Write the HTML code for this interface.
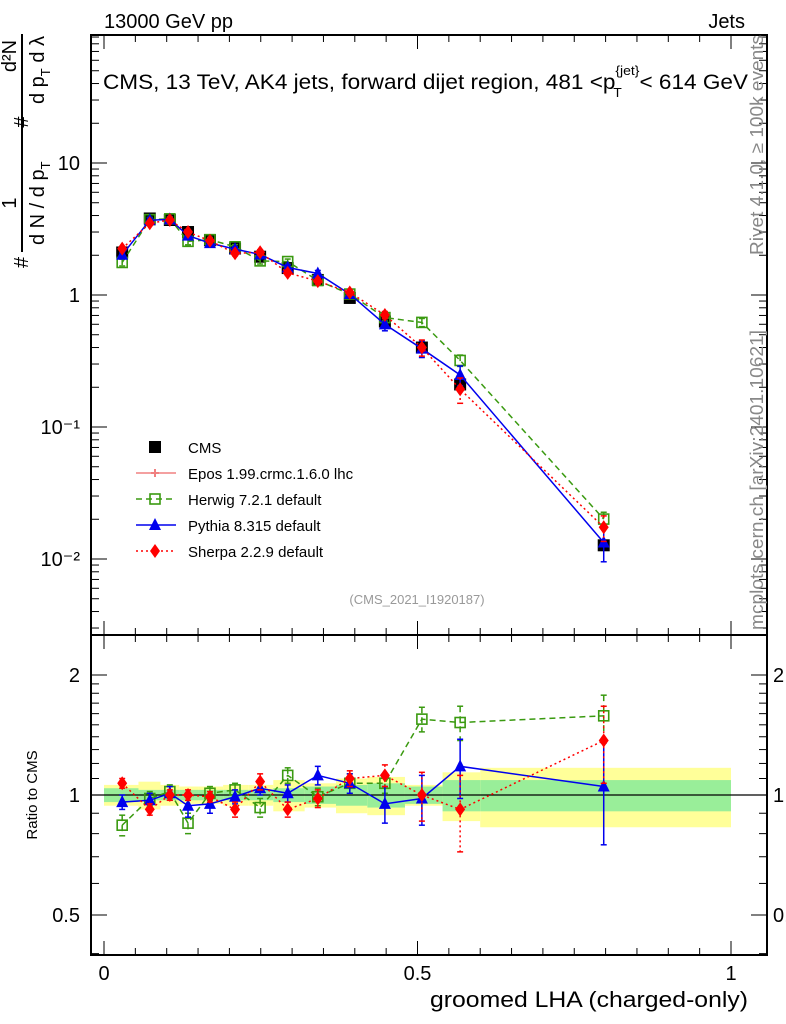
<!DOCTYPE html>
<html><head><meta charset="utf-8"><style>
html,body{margin:0;padding:0;background:#fff;}
svg{display:block;font-family:"Liberation Sans","DejaVu Sans",sans-serif;}
</style></head><body>
<svg id="chart" width="786" height="1024" viewBox="0 0 786 1024" xmlns="http://www.w3.org/2000/svg">
<g id="bands"></g>
<g id="axes"></g>
<g id="series"></g>
<g id="labels">
<text x="104" y="28" font-size="20">13000 GeV pp</text>
<text x="745" y="28" font-size="20" text-anchor="end">Jets</text>
<text x="103" y="89" font-size="21" textLength="645" lengthAdjust="spacingAndGlyphs">CMS, 13 TeV, AK4 jets, forward dijet region, 481 &lt;p<tspan font-size="13" dy="8" dx="-2">T</tspan><tspan font-size="13" dy="-22" dx="-6">{jet}</tspan><tspan dy="14">&lt; 614 GeV</tspan></text>
<text transform="translate(763,255) rotate(-90)" font-size="18" fill="#888" textLength="220" lengthAdjust="spacingAndGlyphs">Rivet 4.1.0, ≥ 100k events</text>
<text transform="translate(763,630) rotate(-90)" font-size="18" fill="#888" textLength="300" lengthAdjust="spacingAndGlyphs">mcplots.cern.ch [arXiv:2401.10621]</text>
<text x="417" y="604" font-size="13" fill="#999" text-anchor="middle">(CMS_2021_I1920187)</text>
<text x="748" y="1007" font-size="22" text-anchor="end" textLength="318" lengthAdjust="spacingAndGlyphs">groomed LHA (charged-only)</text>
<text transform="translate(37,795) rotate(-90)" font-size="15" text-anchor="middle">Ratio to CMS</text>
<g font-size="20">
<line x1="22" y1="252" x2="22" y2="34" stroke="#000" stroke-width="2"/>
<text transform="translate(28,268) rotate(-90)" text-anchor="start">#</text>
<text transform="translate(16,203) rotate(-90)" text-anchor="middle">1</text>
<text transform="translate(16,56) rotate(-90)" text-anchor="middle">d²N</text>
<text transform="translate(44,245) rotate(-90)">d N / d p<tspan font-size="13" dy="6">T</tspan></text>
<text transform="translate(28,122) rotate(-90)" text-anchor="middle">#</text>
<text transform="translate(44,104) rotate(-90)">d p<tspan font-size="13" dy="6">T</tspan><tspan dy="-6">  d λ</tspan></text>
</g>
</g>
<g id="legend"></g>
</svg>
<script>
const xVals=[0.029,0.073,0.105,0.134,0.169,0.209,0.249,0.293,0.341,0.392,0.448,0.507,0.568,0.797];
const binEdges=[0,0.055,0.09,0.12,0.15,0.19,0.23,0.27,0.32,0.37,0.42,0.48,0.54,0.6,1];
const cmsVals=[2.1,3.8,3.7,3.0,2.6,2.25,1.95,1.6,1.3,0.95,0.63,0.40,0.21,0.0127];
const statErr=[0.04,0.03,0.03,0.03,0.03,0.03,0.03,0.04,0.05,0.06,0.07,0.05,0.09,0.09];
const totErr=[0.06,0.08,0.06,0.05,0.05,0.06,0.06,0.09,0.07,0.10,0.11,0.06,0.14,0.17];
const herwigRatio=[0.84,0.98,1.02,0.85,1.01,1.03,0.93,1.12,0.99,1.07,1.07,1.55,1.52,1.58];
const herwigErr=[0.05,0.04,0.04,0.05,0.04,0.04,0.05,0.05,0.05,0.06,0.06,0.11,0.15,0.20];
const pythiaRatio=[0.96,0.97,1.01,0.94,0.95,0.99,1.04,1.01,1.12,1.07,0.95,0.98,1.18,1.05];
const pythiaErr=[0.04,0.04,0.04,0.06,0.05,0.04,0.04,0.05,0.06,0.06,0.10,0.14,0.20,0.30];
const sherpaRatio=[1.07,0.92,1.0,1.0,0.99,0.92,1.08,0.92,0.98,1.1,1.12,1.0,0.92,1.37];
const sherpaErr=[0.03,0.03,0.03,0.03,0.03,0.04,0.05,0.04,0.05,0.05,0.07,0.14,0.20,0.30];
const yTickLabels=["10","1","10⁻¹","10⁻²"];
const yTickVals=[10,1,0.1,0.01];
const rTickVals=[2,1,0.5];
const rTickLabels=["2","1","0.5"];
const xTickVals=[0,0.5,1];
const xTickLabels=["0","0.5","1"];

const NS="http://www.w3.org/2000/svg";
const L=91,R=767,T=35,MB=635,RB=955;
const sx=v=>104+v*627;
const sy=v=>295-Math.log10(v)*132;
const sr=v=>795-Math.log10(v)*398.6;
function mk(tag,attrs,parent){const e=document.createElementNS(NS,tag);for(const k in attrs)e.setAttribute(k,attrs[k]);parent.appendChild(e);return e;}
const axes=document.getElementById('axes'),bands=document.getElementById('bands'),series=document.getElementById('series'),legend=document.getElementById('legend');

for(let i=0;i<xVals.length;i++){
  const x0=sx(binEdges[i]),x1=sx(binEdges[i+1]);
  const y=mk('rect',{x:x0,y:sr(1+totErr[i]),width:x1-x0,height:sr(1-totErr[i])-sr(1+totErr[i]),fill:'#ffff99'},bands);
  
  
  const g=mk('rect',{x:x0,y:sr(1+statErr[i]),width:x1-x0,height:sr(1-statErr[i])-sr(1+statErr[i]),fill:'#99ee99'},bands);
  
  
}
mk('line',{x1:L,x2:R,y1:sr(1),y2:sr(1),stroke:'#000','stroke-width':1.2},bands);

mk('rect',{x:L,y:T,width:R-L,height:MB-T,fill:'none',stroke:'#000','stroke-width':2},axes);
mk('rect',{x:L,y:MB,width:R-L,height:RB-MB,fill:'none',stroke:'#000','stroke-width':2},axes);
for(let v=0;v<=1.0001;v+=0.05){
  const len=Math.abs(v*2-Math.round(v*2))<1e-6?14:7;
  const x=sx(v);
  [[T,1],[MB,-1],[MB,1],[RB,-1]].forEach(([y,d])=>mk('line',{x1:x,x2:x,y1:y,y2:y+d*len,stroke:'#000','stroke-width':1},axes));
}
xTickVals.forEach((v,i)=>{const t=mk('text',{x:sx(v),y:980,'font-size':20,'text-anchor':'middle'},axes);t.textContent=xTickLabels[i];

});
for(let e=-3;e<=1;e++){for(let m=1;m<10;m++){const v=m*Math.pow(10,e);const y=sy(v);if(y<T||y>MB)continue;const len=m===1?16:8;
 mk('line',{x1:L,x2:L+len,y1:y,y2:y,stroke:'#000'},axes);mk('line',{x1:R,x2:R-len,y1:y,y2:y,stroke:'#000'},axes);}}
yTickVals.forEach((v,i)=>{const t=mk('text',{x:80,y:sy(v)+7,'font-size':20,'text-anchor':'end'},axes);t.textContent=yTickLabels[i];

});
[0.4,0.5,0.6,0.7,0.8,0.9,1,2,1.1,1.2,1.3,1.4,1.5,1.6,1.7,1.8,1.9].forEach(v=>{const y=sr(v);if(y<MB||y>RB)return;const len=(v===1||v===2||v===0.5)?16:8;
 mk('line',{x1:L,x2:L+len,y1:y,y2:y,stroke:'#000'},axes);mk('line',{x1:R,x2:R-len,y1:y,y2:y,stroke:'#000'},axes);});
rTickVals.forEach((v,i)=>{const t=mk('text',{x:80,y:sr(v)+7,'font-size':20,'text-anchor':'end'},axes);t.textContent=rTickLabels[i];


const t2=mk('text',{x:773,y:sr(v)+7,'font-size':20},axes);t2.textContent=rTickLabels[i];

});

function marker(type,x,y,color,parent){
  if(type==='sq'){return mk('rect',{x:x-5,y:y-5,width:10,height:10,fill:'none',stroke:color,'stroke-width':1.6},parent);}
  if(type==='fsq'){return mk('rect',{x:x-6,y:y-6,width:12,height:12,fill:color},parent);}
  if(type==='tri'){return mk('polygon',{points:`${x},${y-7} ${x-6},${y+5} ${x+6},${y+5}`,fill:color},parent);}
  if(type==='dia'){return mk('polygon',{points:`${x},${y-7} ${x-5},${y} ${x},${y+7} ${x+5},${y}`,fill:color},parent);}
  if(type==='cross'){return mk('path',{d:`M${x-4} ${y}H${x+4}M${x} ${y-4}V${y+4}`,stroke:color,'stroke-width':2},parent);}
}
function drawModel(name,ratio,err,color,dash,type){
  const g=mk('g',{},series);
  
  
  const mp=xVals.map((x,i)=>[sx(x),sy(cmsVals[i]*ratio[i])]);
  const rp=xVals.map((x,i)=>[sx(x),sr(ratio[i])]);
  [mp,rp].forEach((pts,k)=>{
    mk('polyline',{points:pts.map(p=>p.join(',')).join(' '),fill:'none',stroke:color,'stroke-width':1.5,'stroke-dasharray':dash},g);
    pts.forEach((p,i)=>{
      const r=ratio[i],e=err[i];
      const y1=k?sr(r+e):sy(cmsVals[i]*(r+e)),y2=k?sr(r-e):sy(cmsVals[i]*(r-e));
      mk('line',{x1:p[0],x2:p[0],y1:y1,y2:y2,stroke:color,'stroke-width':1.5,'stroke-dasharray':dash},g);
      mk('line',{x1:p[0]-3,x2:p[0]+3,y1:y1,y2:y1,stroke:color,'stroke-width':1.5},g);
      mk('line',{x1:p[0]-3,x2:p[0]+3,y1:y2,y2:y2,stroke:color,'stroke-width':1.5},g);
      const m=marker(type,p[0],p[1],color,g);
      
      
    });
  });
}
const cg=mk('g',{},series);


xVals.forEach((x,i)=>{const m=marker('fsq',sx(x),sy(cmsVals[i]),'#000',cg);

});
drawModel('herwig',herwigRatio,herwigErr,'#3a9a10','6,4','sq');
drawModel('pythia',pythiaRatio,pythiaErr,'#0000ee','','tri');
drawModel('sherpa',sherpaRatio,sherpaErr,'#ff0000','2,3','dia');

const entries=[['CMS','#000','','fsq',false],['Epos 1.99.crmc.1.6.0 lhc','#f08080','','cross',true],['Herwig 7.2.1 default','#3a9a10','6,4','sq',true],['Pythia 8.315 default','#0000ee','','tri',true],['Sherpa 2.2.9 default','#ff0000','2,3','dia',true]];
entries.forEach((en,i)=>{const y=447+i*26;const g=mk('g',{},legend);


if(en[4])mk('line',{x1:136,x2:176,y1:y,y2:y,stroke:en[1],'stroke-width':1.5,'stroke-dasharray':en[2]},g);
marker(en[3],155,y,en[1],g);
const t=mk('text',{x:188,y:y+6,'font-size':15},g);t.textContent=en[0];});
</script>
</body></html>
